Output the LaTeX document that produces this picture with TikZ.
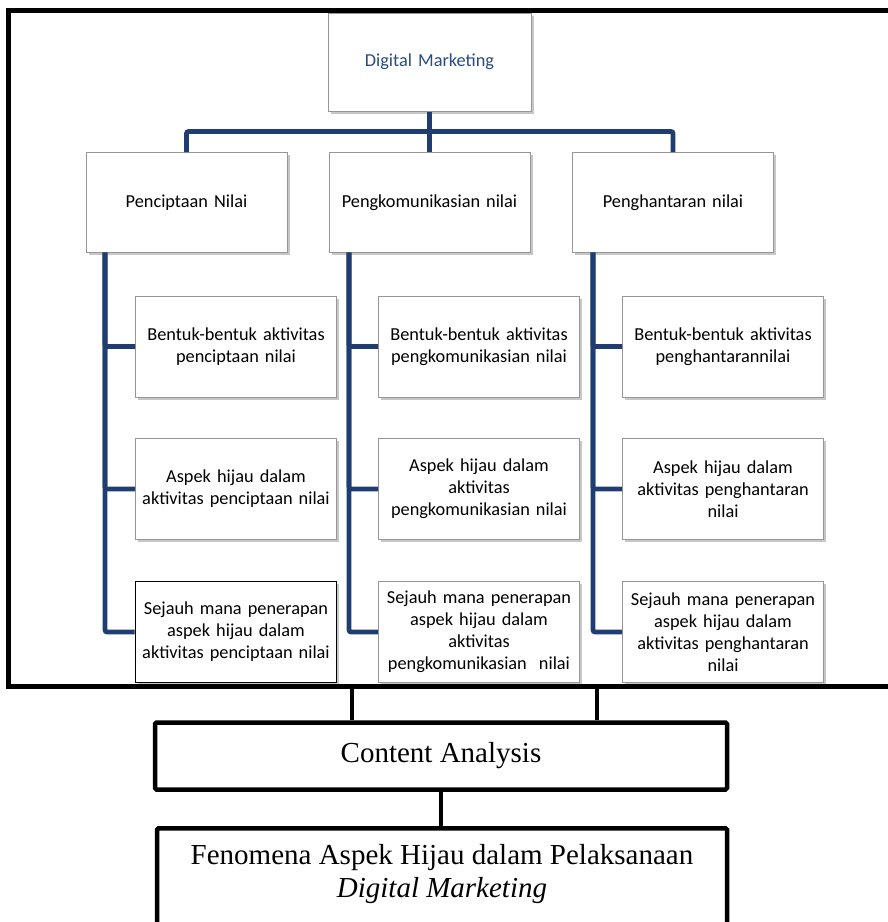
\documentclass[tikz,border=0pt]{standalone}
\usepackage{fontspec}
\setmainfont{Carlito}
\newfontfamily\timesf{Liberation Serif}
\usetikzlibrary{shadows}
\definecolor{navy}{RGB}{31,61,112}
\definecolor{dmblue}{RGB}{41,74,130}
\definecolor{boxgray}{RGB}{150,150,150}
\begin{document}
\begin{tikzpicture}[x=1pt,y=-1pt,
  orgbox/.style={draw=boxgray, line width=1pt, fill=white, align=center,
    font=\fontsize{18.3}{22}\selectfont, inner sep=2pt, text width=194pt,
    drop shadow={shadow xshift=2.5pt, shadow yshift=-2.5pt, fill=black, opacity=0.22}},
  lvlone/.style={orgbox, minimum width=201pt, minimum height=100pt},
  lvltwo/.style={orgbox, minimum width=201pt, minimum height=101pt},
  branch/.style={draw=navy, line width=4.7pt, rounded corners=2pt},
  frameline/.style={draw=black, line width=5pt},
  blackbox/.style={draw=black, line width=4.5pt, fill=white, rounded corners=1.5pt, align=center,
    font=\timesf\fontsize{29}{33}\selectfont},
  bigtext/.style={align=center, inner sep=0pt, font=\timesf\fontsize{29}{33}\selectfont},
  blackline/.style={draw=black, line width=4pt}
]
\useasboundingbox (0,0) rectangle (888,922);
\clip (0,0) rectangle (888,922);

% outer frame
\draw[frameline] (8,10.5) rectangle (900,686);

% top node
\node[orgbox, minimum width=203pt, minimum height=98pt, text=dmblue] (dm) at (429.5,62) {Digital Marketing};

% level one
\node[lvlone] (p1) at (186.5,202.5) {Penciptaan Nilai};
\node[lvlone] (p2) at (429.5,202.5) {Pengkomunikasian nilai};
\node[lvlone] (p3) at (673,202.5) {Penghantaran nilai};

% level two, column 1
\node[lvltwo] (c11) at (236,346.5) {Bentuk-bentuk aktivitas\\penciptaan nilai};
\node[lvltwo] (c12) at (236,489) {Aspek hijau dalam\\aktivitas penciptaan nilai};
\node[lvltwo, draw=black, line width=1.6pt] (c13) at (236,632) {Sejauh mana penerapan\\aspek hijau dalam\\aktivitas penciptaan nilai};
% column 2
\node[lvltwo] (c21) at (479,346.5) {Bentuk-bentuk aktivitas\\pengkomunikasian nilai};
\node[lvltwo] (c22) at (479,489) {Aspek hijau dalam\\aktivitas\\pengkomunikasian nilai};
\node[lvltwo] (c23) at (479,632) {Sejauh mana penerapan\\aspek hijau dalam\\aktivitas\\pengkomunikasian\ \ nilai};
% column 3
\node[lvltwo] (c31) at (723,346.5) {Bentuk-bentuk aktivitas\\penghantarannilai};
\node[lvltwo] (c32) at (723,489) {Aspek hijau dalam\\aktivitas penghantaran\\nilai};
\node[lvltwo] (c33) at (723,632) {Sejauh mana penerapan\\aspek hijau dalam\\aktivitas penghantaran\\nilai};

% top connectors
\coordinate (hub) at (429.5,131.5);
\draw[branch] (dm.south) -- (hub);
\draw[branch] (hub) -| (p1.north);
\draw[branch] (hub) -| (p3.north);
\draw[branch] (hub) -- (p2.north);

% spines
\coordinate (s1) at (105,252.5);
\coordinate (s2) at (349,252.5);
\coordinate (s3) at (593,252.5);
\foreach \c in {1,2,3}{
  \foreach \r in {1,2,3}{
    \draw[branch] (s\c) |- (c\c\r.west);
  }
}

% bottom boxes
\node[blackbox, minimum width=572pt, minimum height=67pt] (ca) at (441,756) {Content Analysis};
\node[blackbox, minimum width=570pt, minimum height=120pt, anchor=north] (fen) at (442,826) {};
\node[bigtext, anchor=north] (fent) at (442,844)
  {Fenomena Aspek Hijau dalam Pelaksanaan\\\textit{Digital Marketing}};

\coordinate (f1) at (352,686);
\coordinate (f2) at (597,686);
\draw[blackline] (f1) -- (f1 |- ca.north);
\draw[blackline] (f2) -- (f2 |- ca.north);
\draw[blackline] (ca.south) -- (ca.south |- fen.north);
\end{tikzpicture}
\end{document}
